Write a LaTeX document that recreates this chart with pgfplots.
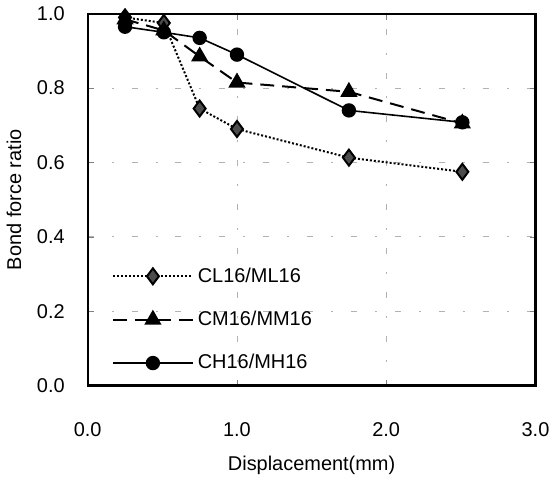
\documentclass[border=0pt]{standalone}
\usepackage{fontspec}
\setmainfont{Liberation Sans}
\usepackage{pgfplots}
\pgfplotsset{compat=1.18}

\begin{document}
\begin{tikzpicture}
\begin{axis}[
    scale only axis,
    width=224.5pt, height=186.5pt,
    xmin=0, xmax=3, ymin=0, ymax=1,
    xtick={0,1,2,3}, ytick={0,0.2,0.4,0.6,0.8,1.0},
    /pgf/number format/assume math mode=true,
    /pgf/number format/.cd, fixed, fixed zerofill, precision=1, /pgfplots/.cd,
    tick label style={font=\fontsize{10}{12}\selectfont},
    label style={font=\fontsize{10}{12}\selectfont},
    xlabel={Displacement(mm)},
    ylabel={Bond force ratio},
    xticklabel style={yshift=-15pt},
    yticklabel style={xshift=-8pt},
    xlabel style={yshift=-3pt},
    ylabel style={yshift=1pt},
    tick align=inside,
    major tick length=3pt,
    axis line style={line width=1.2pt},
    grid=major,
    grid style={gray!60, line width=0.4pt, dash pattern=on 3pt off 9pt on 1pt off 9pt},
    legend style={draw=none, fill=none, at={(axis cs:0.12,0.34)}, anchor=north west,
        font=\fontsize{10}{12}\selectfont, row sep=9pt},
    legend cell align=left,
    legend image code/.code={
        \draw[#1] (0pt,0pt) -- (40pt,0pt);
        \draw[#1, solid, only marks] plot coordinates {(20pt,0pt)};
    },
]
\addplot[black, line width=1pt, densely dotted, mark=diamond*, mark size=4pt,
    mark options={solid, fill=black!70, draw=black}]
    coordinates {(0.25,0.99) (0.51,0.975) (0.75,0.745) (1.0,0.69) (1.75,0.613) (2.51,0.575)};
\addlegendentry{CL16/ML16}
\addplot[black, line width=1pt, dash pattern=on 7pt off 4pt, mark=triangle*, mark size=4pt,
    mark options={solid, fill=black}]
    coordinates {(0.25,0.985) (0.51,0.955) (0.75,0.885) (1.0,0.815) (1.75,0.79) (2.51,0.705)};
\addlegendentry{CM16/MM16}
\addplot[black, line width=0.8pt, solid, mark=*, mark size=3.2pt, mark options={fill=black}]
    coordinates {(0.25,0.965) (0.51,0.95) (0.75,0.935) (1.0,0.89) (1.75,0.74) (2.51,0.708)};
\addlegendentry{CH16/MH16}
\end{axis}
\end{tikzpicture}
\end{document}
